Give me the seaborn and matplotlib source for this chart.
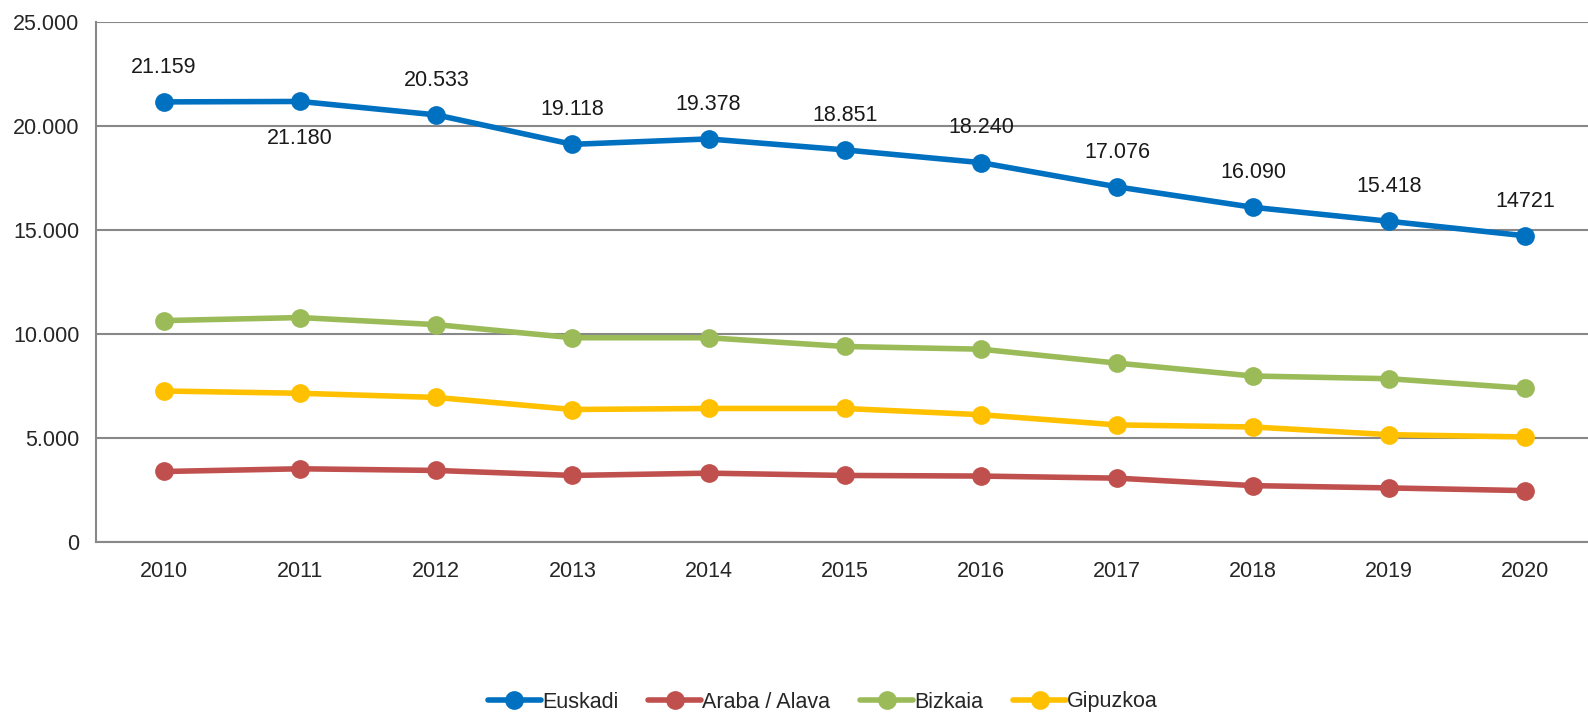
import numpy as np
import pandas as pd
import matplotlib
matplotlib.use("Agg")
import matplotlib.pyplot as plt
from matplotlib.ticker import FuncFormatter, FixedLocator
import seaborn as sns

# data
years = ["2010", "2011", "2012", "2013", "2014", "2015", "2016", "2017", "2018", "2019", "2020"]
euskadi = [21159, 21180, 20533, 19118, 19378, 18851, 18240, 17076, 16090, 15418, 14721]
araba = [3390, 3520, 3440, 3200, 3310, 3200, 3170, 3070, 2710, 2600, 2470]
bizkaia = [10645, 10790, 10450, 9820, 9820, 9400, 9270, 8600, 7980, 7850, 7390]
gipuzkoa = [7260, 7150, 6950, 6370, 6420, 6420, 6120, 5630, 5530, 5160, 5050]
euskadi_labels = ["21.159", "21.180", "20.533", "19.118", "19.378", "18.851",
                  "18.240", "17.076", "16.090", "15.418", "14721"]
series_names = ["Euskadi", "Araba / Alava", "Bizkaia", "Gipuzkoa"]
colors = ["#0070C0", "#C0504D", "#9BBB59", "#FFC000"]

df = pd.DataFrame({"year": years, "Euskadi": euskadi, "Araba / Alava": araba,
                   "Bizkaia": bizkaia, "Gipuzkoa": gipuzkoa})
long = df.melt(id_vars="year", var_name="serie", value_name="valor")
long["x"] = long["year"].map({y: i for i, y in enumerate(years)})

sns.set_style("white")
plt.rcParams["font.family"] = ["Liberation Sans", "DejaVu Sans"]
fs = 15.5

fig = plt.figure(figsize=(15.88, 7.24), dpi=100)
ax = fig.add_axes([96 / 1588, 1 - 542 / 724, 1 - 96 / 1588, (542 - 22) / 724])

sns.lineplot(data=long, x="x", y="valor", hue="serie", hue_order=series_names,
             palette=colors, marker="o", markersize=13.5, markeredgewidth=0,
             linewidth=4, ax=ax, legend=True)

# data labels on Euskadi
for i, (v, lab) in enumerate(zip(euskadi, euskadi_labels)):
    off = -27 if i == 1 else 25
    ax.annotate(lab, (i, v), xytext=(0, off), textcoords="offset points",
                ha="center", va="center", fontsize=fs, color="#1a1a1a")

grid_c = "#888888"
ax.set_ylim(0, 25000)
ax.set_xlim(-0.5, 10.46)
ax.set_yticks(np.arange(0, 25001, 5000))
ax.yaxis.set_major_formatter(FuncFormatter(lambda v, p: f"{int(v):,}".replace(",", ".")))
ax.grid(axis="y", color=grid_c, linewidth=1.5)
ax.set_axisbelow(True)

ax.set_xticks(range(len(years)))
ax.set_xticklabels(years)
ax.xaxis.set_minor_locator(FixedLocator(np.arange(-0.5, 10.6, 1)))
ax.tick_params(axis="x", which="major", length=0, pad=14, labelsize=fs)
ax.tick_params(axis="x", which="minor", length=7, width=1.5, color=grid_c, direction="out")
ax.tick_params(axis="y", length=7, width=1.5, color=grid_c, direction="out", pad=5, labelsize=fs)

for s in ["top", "right"]:
    ax.spines[s].set_visible(False)
for s in ["left", "bottom"]:
    ax.spines[s].set_color(grid_c)
    ax.spines[s].set_linewidth(1.5)

ax.set_xlabel("")
ax.set_ylabel("")

handles, labels = ax.get_legend_handles_labels()
fig.legend(handles, labels, loc="center", bbox_to_anchor=(823 / 1588, 1 - 702 / 724), ncol=4,
           frameon=False, fontsize=fs, handlelength=2.45, handletextpad=0.05,
           columnspacing=1.4)
ax.get_legend().remove()

fig.savefig("out.png", dpi=100)
